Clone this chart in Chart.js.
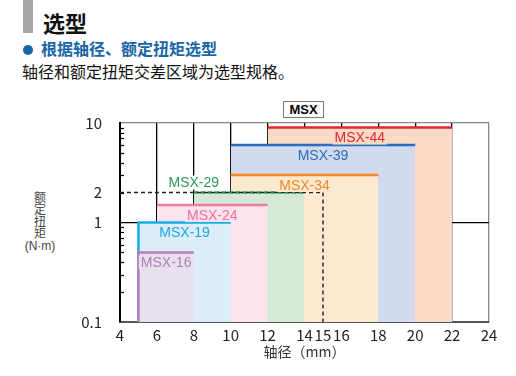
<!DOCTYPE html>
<html>
<head>
<meta charset="utf-8">
<script src="https://cdn.jsdelivr.net/npm/chart.js@4/dist/chart.umd.min.js"></script>
<style>
  body { margin: 0; width: 516px; height: 376px; position: relative; overflow: hidden; background: #fff;
         font-family: "Noto Sans CJK SC", "Noto Sans", sans-serif; }
  .bar { position: absolute; left: 23px; top: 0; width: 10px; height: 33px; background: #a6a6a6; }
  .title { position: absolute; left: 43px; top: 11px; font-size: 22px; line-height: 22px; font-weight: bold; color: #111; }
  .sub { position: absolute; left: 22px; top: 40px; font-size: 16px; line-height: 16px; font-weight: bold; color: #1766a8; white-space: nowrap; }
  .sub .dot { display: inline-block; width: 10px; height: 10px; border-radius: 50%; background: #1766a8; margin: 0 8px 1px 1px; vertical-align: middle; }
  .desc { position: absolute; left: 22px; top: 63px; font-size: 16px; line-height: 16px; color: #111; white-space: nowrap; }
  .ytitle { position: absolute; left: 20px; top: 191px; width: 40px; color: #444; }
  .ytitle div { display: block; height: 12px; line-height: 12px; font-size: 12px; text-align: center; white-space: nowrap; }
  .ytitle .unit { font-family: "Liberation Sans", Arial, sans-serif; font-size: 12px; margin-top: 1px; }
  .tag { position: absolute; left: 283px; top: 101px; width: 39px; height: 15px; border: 1px solid #777; text-align: center;
         font: bold 13px/15px "Liberation Sans", Arial, sans-serif; color: #000; }
  #chart { position: absolute; left: 0; top: 90px; }
</style>
</head>
<body>
<div class="bar"></div>
<div class="title">选型</div>
<div class="sub"><span class="dot"></span>根据轴径、额定扭矩选型</div>
<div class="desc">轴径和额定扭矩交差区域为选型规格。</div>
<div class="ytitle"><div>额</div><div>定</div><div>扭</div><div>矩</div><div class="unit">(N·m)</div></div>
<div class="tag">MSX</div>
<canvas id="chart" width="516" height="286"></canvas>
<script>
// model ranges: shaft diameter (mm) and rated torque (N·m)
var models = ["MSX-16", "MSX-19", "MSX-24", "MSX-29", "MSX-34", "MSX-39", "MSX-44"];
var shaftMin = [5, 5, 6, 8, 10, 10, 12];
var shaftMax = [8, 10, 12, 14, 18, 20, 22];
var ratedTorque = [0.5, 1, 1.5, 2, 3, 6, 9];

// selection example (dashed guide)
var exampleShaft = 15;
var exampleTorque = 2;

var xTicks = [4, 6, 8, 10, 12, 14, 15, 16, 18, 20, 22, 24];
var yTicks = [0.1, 0.2, 0.3, 0.4, 0.5, 0.6, 0.7, 0.8, 0.9, 1, 2, 3, 4, 5, 6, 7, 8, 9, 10];
var yLabels = [0.1, 1, 2, 10];

var lineColors = ["#b47fbd", "#15aee9", "#ec7ba6", "#1f9d4d", "#f58a20", "#2b6bc0", "#e8242c"];
var fillColors = ["#e9e0ee", "#daedf9", "#fce3ec", "#d5e9d5", "#fde8d1", "#d2daee", "#f9dbc8"];
var textColors = ["#a97fb5", "#1ba8e6", "#ec6f9f", "#2a9a5a", "#f08a24", "#2b6bc0", "#e8242c"];
var labelAbove = ["MSX-29"];

var gridShafts = xTicks.filter(function (v) { return v !== exampleShaft; });

var datasets = [{
  label: "example",
  data: [{x: xTicks[0], y: exampleTorque}, {x: exampleShaft, y: exampleTorque}, {x: exampleShaft, y: yTicks[0]}],
  borderColor: "#222",
  borderWidth: 1.4,
  borderDash: [4, 3],
  pointRadius: 0,
  fill: false
}];

models.forEach(function (m, i) {
  var col = lineColors[i];
  datasets.push({
    label: m,
    data: [{x: shaftMin[i], y: yTicks[0]}, {x: shaftMin[i], y: ratedTorque[i]}, {x: shaftMax[i], y: ratedTorque[i]}],
    borderColor: col,
    borderWidth: 2.5,
    borderDash: m === "MSX-29" ? [4, 3] : [],
    backgroundColor: fillColors[i],
    fill: "start",
    pointRadius: 0,
    segment: {
      borderColor: function (ctx) {
        var vertical = ctx.p0.parsed.x === ctx.p1.parsed.x;
        return vertical && gridShafts.indexOf(ctx.p0.parsed.x) >= 0 ? "rgba(0,0,0,0)" : col;
      }
    }
  });
});

// model names with a patch of background, plus inner minor ticks on y axis
var overlayPlugin = {
  id: "overlay",
  afterDraw: function (chart) {
    var ctx = chart.ctx, xs = chart.scales.x, ys = chart.scales.y;
    ctx.save();
    ys.ticks.forEach(function (t) {
      if (t.value <= yTicks[0] || t.value >= 10 || t.value === 1) return;
      var py = Math.round(ys.getPixelForValue(t.value)) + 0.5;
      ctx.strokeStyle = "#000";
      ctx.lineWidth = 1.2;
      ctx.beginPath();
      ctx.moveTo(xs.left, py);
      ctx.lineTo(xs.left + 4, py);
      ctx.stroke();
    });
    ctx.font = "14px 'Liberation Sans', Arial, sans-serif";
    ctx.textAlign = "center";
    ctx.textBaseline = "middle";
    models.forEach(function (m, i) {
      var above = labelAbove.indexOf(m) >= 0;
      var cx = xs.getPixelForValue(above ? shaftMin[i] : (shaftMin[i] + shaftMax[i]) / 2);
      var ty = ys.getPixelForValue(ratedTorque[i]);
      var cy = above ? ty - 10 : ty + 10;
      var w = ctx.measureText(m).width + 4;
      ctx.fillStyle = above ? "#fff" : fillColors[i];
      ctx.fillRect(cx - w / 2, cy - 7, w, 14);
      ctx.fillStyle = textColors[i];
      ctx.fillText(m, cx, cy + 1);
    });
    ctx.restore();
  }
};

new Chart(document.getElementById("chart").getContext("2d"), {
  type: "line",
  data: {datasets: datasets},
  plugins: [overlayPlugin],
  options: {
    responsive: false,
    animation: false,
    devicePixelRatio: 1,
    layout: {padding: {top: 33, right: 27, left: 0, bottom: 16}},
    plugins: {legend: {display: false}, tooltip: {enabled: false}},
    scales: {
      x: {
        type: "linear",
        min: 4,
        max: 24,
        z: 1,
        afterBuildTicks: function (axis) { axis.ticks = xTicks.map(function (v) { return {value: v}; }); },
        afterFit: function (axis) { axis.height = 38; },
        border: {color: "#555", width: 2},
        grid: {
          drawTicks: false,
          lineWidth: 1.3,
          color: function (c) {
            var v = c.tick && c.tick.value;
            if (v === 24) return "#888";
            if (v === 4 || v === exampleShaft) return "rgba(0,0,0,0)";
            return "#000";
          }
        },
        ticks: {
          padding: 4,
          maxRotation: 0,
          autoSkip: false,
          color: "#222",
          font: {family: "'Noto Sans CJK SC', 'Noto Sans', sans-serif", size: 15}
        },
        title: {
          display: true,
          text: "轴径（mm）",
          color: "#333",
          font: {family: "'Noto Sans CJK SC', sans-serif", size: 14},
          padding: {top: 0, bottom: 0}
        }
      },
      y: {
        type: "logarithmic",
        min: 0.1,
        max: 10,
        z: 1,
        afterBuildTicks: function (axis) { axis.ticks = yTicks.map(function (v) { return {value: v}; }); },
        afterFit: function (axis) { axis.width = 120; },
        border: {color: "#000", width: 2},
        grid: {
          drawTicks: false,
          lineWidth: 1.3,
          color: function (c) {
            var v = c.tick && c.tick.value;
            if (v === 10) return "#888";
            if (v === 1) return "#000";
            return "rgba(0,0,0,0)";
          }
        },
        ticks: {
          padding: 18,
          autoSkip: false,
          color: "#222",
          font: {family: "'Noto Sans CJK SC', 'Noto Sans', sans-serif", size: 15},
          callback: function (v) { return yLabels.indexOf(v) >= 0 ? String(v) : ""; }
        }
      }
    }
  }
});
</script>
</body>
</html>
